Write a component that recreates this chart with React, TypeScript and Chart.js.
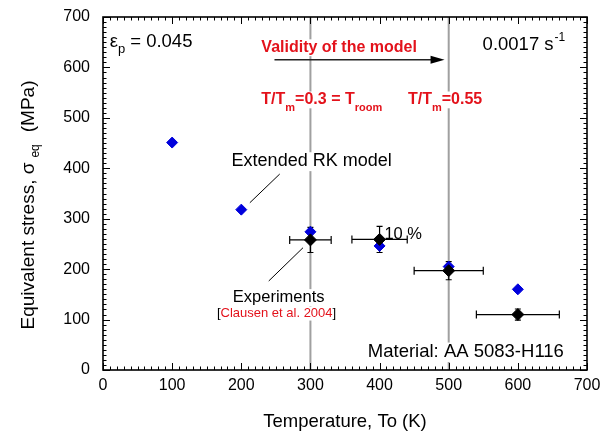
import React, { useEffect, useRef } from "react";
import { Chart, registerables } from "chart.js";
Chart.register(...registerables);

// ---- data ----
const modelTemp = [100, 200, 300, 400, 500, 600];
const modelStress = [451, 318, 274, 246, 205, 160];
const expTemp = [300, 400, 500, 600];
const expStress = [258, 259, 197, 110];
const expTempErr = [30, 40, 50, 60];
const expStressErr = [25, 26, 18, 11];
const refTemps = [300, 500];
const axisMin = 0;
const axisMax = 700;
const majorStep = 100;
const minorStep = 10;

const FONT = '"Liberation Sans", Arial, Helvetica, sans-serif';
const RED = "#e3121b";
const BLUE = "#0000dc";

type Part = { t: string; size: number; bold?: boolean; color?: string; dy?: number; gap?: number };

function font(size: number, bold?: boolean) {
  return `${bold ? "bold " : ""}${size}px ${FONT}`;
}

function drawRich(
  ctx: CanvasRenderingContext2D,
  x: number,
  y: number,
  parts: Part[],
  align: "left" | "center",
  bg: boolean
) {
  ctx.save();
  ctx.textBaseline = "alphabetic";
  ctx.textAlign = "left";
  const widths = parts.map((p) => {
    ctx.font = font(p.size, p.bold);
    return ctx.measureText(p.t).width + (p.gap || 0);
  });
  const w = widths.reduce((a, b) => a + b, 0);
  const maxSize = Math.max(...parts.map((p) => p.size));
  let sx = align === "center" ? x - w / 2 : x;
  if (bg) {
    ctx.fillStyle = "#fff";
    ctx.fillRect(sx - 2, y - maxSize * 0.78, w + 4, maxSize * 1.05);
  }
  parts.forEach((p, i) => {
    ctx.font = font(p.size, p.bold);
    ctx.fillStyle = p.color || "#000";
    ctx.fillText(p.t, sx, y + (p.dy || 0));
    sx += widths[i];
  });
  ctx.restore();
}

const decor = {
  id: "decor",
  beforeDatasetsDraw(chart: any) {
    const { ctx, chartArea: a, scales } = chart;
    const x = scales.x;
    const y = scales.y;
    const X = (v: number) => x.getPixelForValue(v);
    const Y = (v: number) => y.getPixelForValue(v);

    // reference lines
    ctx.save();
    ctx.strokeStyle = "#a0a0a0";
    ctx.lineWidth = 2;
    refTemps.forEach((t) => {
      ctx.beginPath();
      ctx.moveTo(X(t), a.top);
      ctx.lineTo(X(t), a.bottom);
      ctx.stroke();
    });
    ctx.restore();

    // labels
    drawRich(ctx, X(9.7), Y(641.5), [
      { t: "ε", size: 18.5 },
      { t: "p", size: 13, dy: 6, gap: 5 },
      { t: "= 0.045", size: 18.5 },
    ], "left", false);
    drawRich(ctx, X(549), Y(634.7), [
      { t: "0.0017 s", size: 18.5, gap: 1 },
      { t: "-1", size: 12, dy: -9 },
    ], "left", false);
    drawRich(ctx, X(229), Y(631), [
      { t: "Validity of the model", size: 16, bold: true, color: RED },
    ], "left", true);
    drawRich(ctx, X(229), Y(527.5), [
      { t: "T/T", size: 16, bold: true, color: RED },
      { t: "m", size: 11, bold: true, color: RED, dy: 7.5 },
      { t: "=0.3 = T", size: 16, bold: true, color: RED },
      { t: "room", size: 11, bold: true, color: RED, dy: 7.5 },
    ], "left", true);
    drawRich(ctx, X(441), Y(527.5), [
      { t: "T/T", size: 16, bold: true, color: RED },
      { t: "m", size: 11, bold: true, color: RED, dy: 7.5 },
      { t: "=0.55", size: 16, bold: true, color: RED },
    ], "left", true);
    drawRich(ctx, X(186), Y(404), [{ t: "Extended RK model", size: 18 }], "left", true);
    drawRich(ctx, X(407), Y(260), [{ t: "10 %", size: 16.5 }], "left", false);
    drawRich(ctx, X(254), Y(134.8), [{ t: "Experiments", size: 16.5 }], "center", true);
    drawRich(ctx, X(251), Y(105), [
      { t: "[", size: 13 },
      { t: "Clausen et al. 2004", size: 13, color: RED },
      { t: "]", size: 13 },
    ], "center", true);
    drawRich(ctx, X(383), Y(25.8), [{ t: "Material: AA 5083-H116", size: 18.5 }], "left", true);

    // arrow
    ctx.save();
    ctx.strokeStyle = "#222";
    ctx.fillStyle = "#000";
    ctx.lineWidth = 1.5;
    const ay = Y(615);
    const ax0 = X(248);
    const ax1 = X(494);
    ctx.beginPath();
    ctx.moveTo(ax0, ay);
    ctx.lineTo(ax1 - 12, ay);
    ctx.stroke();
    ctx.beginPath();
    ctx.moveTo(ax1, ay);
    ctx.lineTo(ax1 - 14, ay - 4);
    ctx.lineTo(ax1 - 14, ay + 4);
    ctx.closePath();
    ctx.fill();

    // leader lines
    ctx.lineWidth = 1;
    ctx.strokeStyle = "#000";
    ctx.beginPath();
    ctx.moveTo(X(212.4), Y(331.7));
    ctx.lineTo(X(255.6), Y(388.6));
    ctx.moveTo(X(239.7), Y(176.5));
    ctx.lineTo(X(289.3), Y(242.5));
    ctx.stroke();

    // error bars
    ctx.lineWidth = 1.2;
    ctx.strokeStyle = "#000";
    expTemp.forEach((t, i) => {
      const px = X(t);
      const py = Y(expStress[i]);
      const xl = X(t - expTempErr[i]);
      const xr = X(t + expTempErr[i]);
      const yt = Y(expStress[i] + expStressErr[i]);
      const yb = Y(expStress[i] - expStressErr[i]);
      ctx.beginPath();
      ctx.moveTo(xl, py);
      ctx.lineTo(xr, py);
      ctx.moveTo(xl, py - 4);
      ctx.lineTo(xl, py + 4);
      ctx.moveTo(xr, py - 4);
      ctx.lineTo(xr, py + 4);
      ctx.moveTo(px, yt);
      ctx.lineTo(px, yb);
      ctx.moveTo(px - 3, yt);
      ctx.lineTo(px + 3, yt);
      ctx.moveTo(px - 3, yb);
      ctx.lineTo(px + 3, yb);
      ctx.stroke();
    });
    ctx.restore();
  },
  afterDatasetsDraw(chart: any) {
    const { ctx, chartArea: a, scales } = chart;
    const x = scales.x;
    const y = scales.y;
    ctx.save();
    ctx.strokeStyle = "#000";
    ctx.lineWidth = 1;
    ctx.beginPath();
    for (let v = axisMin; v <= axisMax; v += minorStep) {
      const major = v % majorStep === 0;
      const L = major ? 7 : 3.5;
      const px = Math.round(x.getPixelForValue(v)) + 0.5;
      ctx.moveTo(px, a.bottom);
      ctx.lineTo(px, a.bottom - L);
      ctx.moveTo(px, a.top);
      ctx.lineTo(px, a.top + L);
      const py = Math.round(y.getPixelForValue(v)) + 0.5;
      ctx.moveTo(a.left, py);
      ctx.lineTo(a.left + L, py);
      ctx.moveTo(a.right, py);
      ctx.lineTo(a.right - L, py);
    }
    ctx.stroke();
    ctx.lineWidth = 1.6;
    ctx.strokeRect(a.left, a.top, a.right - a.left, a.bottom - a.top);
    ctx.restore();

    // axis titles
    drawRich(ctx, (a.left + a.right) / 2, 427, [{ t: "Temperature, To (K)", size: 18.5 }], "center", false);
    ctx.save();
    ctx.translate(33.5, 205);
    ctx.rotate(-Math.PI / 2);
    drawRich(ctx, 0, 0, [
      { t: "Equivalent stress, σ", size: 19, gap: 5 },
      { t: "eq", size: 12, dy: 5, gap: 12 },
      { t: "(MPa)", size: 19 },
    ], "center", false);
    ctx.restore();
  },
};

export default function App() {
  const ref = useRef<HTMLCanvasElement | null>(null);
  useEffect(() => {
    if (!ref.current) return;
    Chart.defaults.font.family = FONT;
    const chart = new Chart(ref.current, {
      type: "scatter",
      data: {
        datasets: [
          {
            label: "Extended RK model",
            data: modelTemp.map((t, i) => ({ x: t, y: modelStress[i] })),
            pointStyle: "rectRot",
            pointRadius: 5.5,
            backgroundColor: BLUE,
            borderColor: BLUE,
            pointBorderWidth: 1,
            order: 2,
          },
          {
            label: "Experiments",
            data: expTemp.map((t, i) => ({ x: t, y: expStress[i] })),
            pointStyle: "rectRot",
            pointRadius: 6,
            backgroundColor: "#000",
            borderColor: "#000",
            pointBorderWidth: 1,
            order: 1,
          },
        ],
      },
      options: {
        animation: false,
        responsive: false,
        maintainAspectRatio: false,
        layout: { padding: { top: 17, right: 13, left: 0, bottom: 0 } },
        plugins: { legend: { display: false }, tooltip: { enabled: false } },
        scales: {
          x: {
            type: "linear",
            min: axisMin,
            max: axisMax,
            grid: { display: false, drawTicks: false },
            border: { display: false },
            ticks: { stepSize: majorStep, color: "#000", font: { size: 16, family: FONT }, padding: 6, maxRotation: 0 },
            afterFit: (s: any) => {
              s.height = 63;
              s.paddingLeft = 0;
              s.paddingRight = 0;
            },
          },
          y: {
            type: "linear",
            min: axisMin,
            max: axisMax,
            grid: { display: false, drawTicks: false },
            border: { display: false },
            ticks: { stepSize: majorStep, color: "#000", font: { size: 16, family: FONT }, padding: 13 },
            afterFit: (s: any) => {
              s.width = 103;
              s.paddingTop = 0;
              s.paddingBottom = 0;
            },
          },
        },
      },
      plugins: [decor],
    });
    return () => chart.destroy();
  }, []);
  return (
    <div style={{ position: "fixed", left: 0, top: 0, width: 600, height: 433, background: "#fff" }}>
      <canvas ref={ref} width={600} height={433} style={{ width: 600, height: 433 }} />
    </div>
  );
}
